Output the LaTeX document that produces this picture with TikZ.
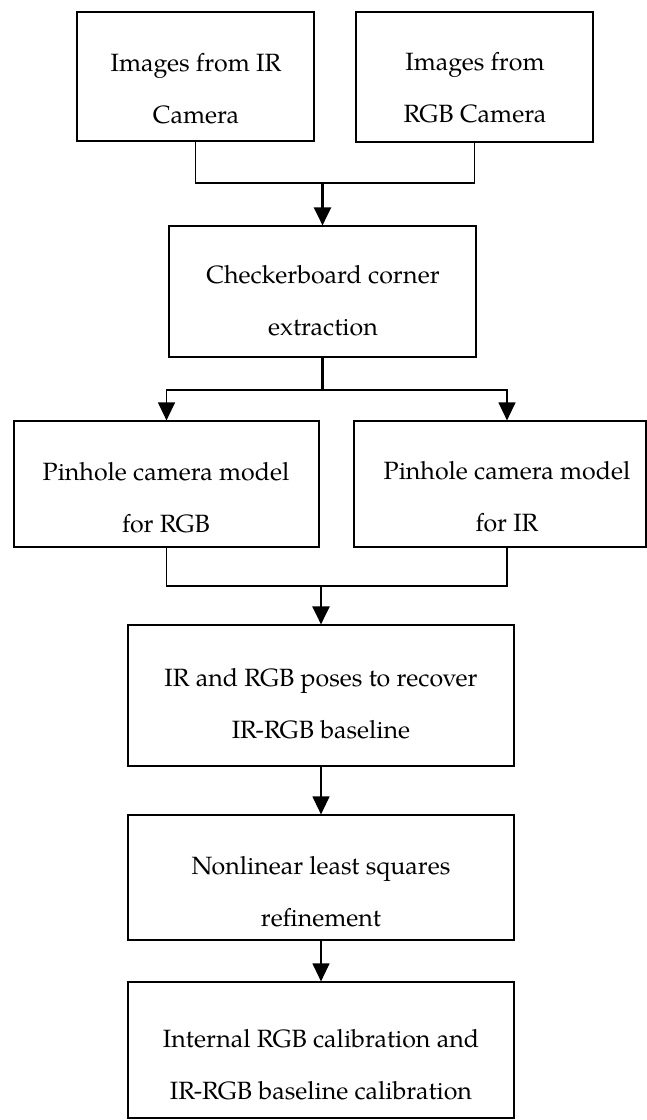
\documentclass[tikz,border=0pt]{standalone}
\usepackage{fontspec}
\setmainfont{TeX Gyre Pagella}
\usetikzlibrary{arrows.meta}
\begin{document}
\begin{tikzpicture}[x=1pt,y=-1pt,
  box/.style 2 args={draw=black, line width=1.2pt, inner sep=0pt, minimum width=#1, minimum height=#2},
  txt/.style={align=center, inner sep=0pt, font=\fontsize{25}{52}\selectfont},
  thinline/.style={draw=black, line width=1.2pt, line join=miter},
  thickline/.style={draw=black, line width=2.4pt, line join=miter},
  tip/.style={-{Triangle[width=17pt,length=18pt]}}]
\useasboundingbox[fill=white] (0,0) rectangle (647,1120);

% boxes
\node[box={237pt}{129pt}] (b1) at (195.5,76.5) {};
\node[box={237pt}{130pt}] (b2) at (474.5,77) {};
\node[box={307pt}{131pt}] (b3) at (322.5,291.5) {};
\node[box={305pt}{126pt}] (b4) at (166.5,484) {};
\node[box={292pt}{126pt}] (b5) at (500,484) {};
\node[box={386pt}{141pt}] (b6) at (321,695.5) {};
\node[box={386pt}{125pt}] (b7) at (321,877.5) {};
\node[box={386pt}{136pt}] (b8) at (321,1050) {};

% texts
\node[txt] (t1) at (196,88.5) {Images from IR\\Camera};
\node[txt] (t2) at (475,88) {Images from\\RGB Camera};
\node[txt] (t3) at (323,300.5) {Checkerboard corner\\extraction};
\node[txt] (t4) at (166,497.5) {Pinhole camera model\\for RGB};
\node[txt] (t5) at (507,497) {Pinhole camera model\\for IR};
\node[txt] (t6) at (321,704) {IR and RGB poses to recover\\IR-RGB baseline};
\node[txt] (t7) at (321,892) {Nonlinear least squares\\refinement};
\node[txt] (t8) at (321,1065) {Internal RGB calibration and\\IR-RGB baseline calibration};

% junctions
\coordinate (j1) at (322.5,183);
\coordinate (j2) at (322.5,390);
\coordinate (j3) at (321,586);

% connectors
\draw[thinline] (b1.south) |- (j1) -| (b2.south);
\draw[thickline, tip] (j1) -- (b3.north);
\draw[thickline] (b3.south) -- (j2);
\draw[thinline, tip] (j2) -| (b4.north);
\draw[thinline, tip] (j2) -| (b5.north -| t5);
\draw[thinline] (b4.south) |- (j3) -| (b5.south -| t5);
\draw[thickline, tip] (j3) -- (b6.north);
\draw[thinline, tip] (b6) -- (b7);
\draw[thinline, tip] (b7) -- (b8);
\end{tikzpicture}
\end{document}
